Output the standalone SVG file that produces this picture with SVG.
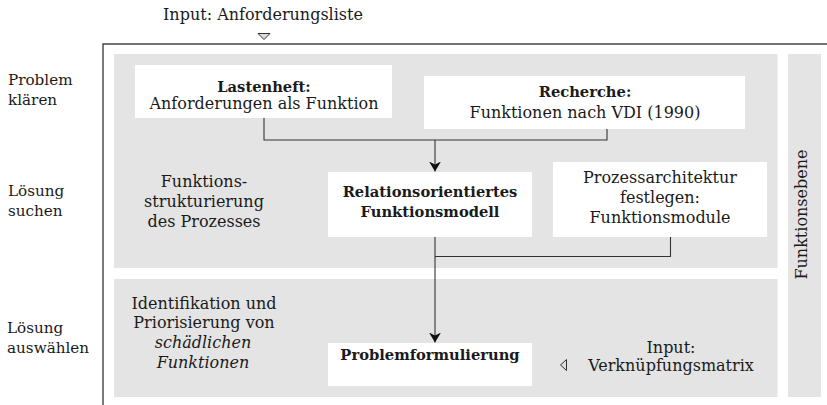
<svg xmlns="http://www.w3.org/2000/svg" width="827" height="405" viewBox="0 0 827 405">
  <defs>
    <style>
      text { font-family: "DejaVu Serif", "Liberation Serif", serif; font-size: 16px; fill: #1a1a1a; }
      .s { font-size: 15.2px; }
      .b { font-weight: bold; font-size: 14.7px; }
      .i { font-style: italic; }
      .m { text-anchor: middle; }
      .panel { fill: #e4e4e4; }
      .box { fill: #ffffff; }
      .frame { stroke: #444444; stroke-width: 1.4; fill: none; }
      .wire { stroke: #333333; stroke-width: 1.1; fill: none; }
      .tri { fill: #dddddd; stroke: #333333; stroke-width: 1; }
    </style>
    <marker id="arrow" viewBox="0 0 10 14" refX="10" refY="7" markerWidth="10" markerHeight="14" markerUnits="userSpaceOnUse" orient="auto">
      <path d="M0,1 L10,7 L0,13 L3,7 Z" fill="#111111"/>
    </marker>
  </defs>

  <!-- frame -->
  <path class="frame" d="M103,405 V44 H827"/>

  <!-- background panels -->
  <rect class="panel" x="114" y="54" width="663.5" height="214"/>
  <rect class="panel" x="114" y="279" width="663.5" height="118"/>
  <rect class="panel" x="788" y="54" width="33" height="343"/>

  <!-- input marker (top) -->
  <text class="m" x="263" y="20">Input: Anforderungsliste</text>
  <polygon class="tri" points="258,33.5 270,33.5 264,39.5"/>

  <!-- phase labels -->
  <text class="s" x="8" y="85">Problem</text>
  <text class="s" x="8" y="105">klären</text>
  <text class="s" x="8" y="196">Lösung</text>
  <text class="s" x="8" y="216">suchen</text>
  <text class="s" x="7" y="333">Lösung</text>
  <text class="s" x="7" y="353">auswählen</text>

  <!-- level label -->
  <text class="m" transform="translate(807,214.5) rotate(-90)">Funktionsebene</text>

  <!-- connectors -->
  <g id="connectors">
    <path class="wire" d="M264,118 V140 H607 V129"/>
    <path class="wire" d="M435,140 V171.5" marker-end="url(#arrow)"/>
    <path class="wire" d="M670.5,237 V256.5 H435"/>
    <path class="wire" d="M435,237 V342.5" marker-end="url(#arrow)"/>
  </g>

  <g id="lastenheft">
    <rect class="box" x="135" y="65" width="257" height="53"/>
    <text class="m b" x="264" y="91.5">Lastenheft:</text>
    <text class="m" x="264" y="109">Anforderungen als Funktion</text>
  </g>

  <g id="recherche">
    <rect class="box" x="424" y="76" width="321" height="53"/>
    <text class="m b" x="585" y="97">Recherche:</text>
    <text class="m" x="585" y="118">Funktionen nach VDI (1990)</text>
  </g>

  <g id="funktionsstrukturierung">
    <text class="m" x="204" y="187">Funktions-</text>
    <text class="m" x="204" y="207">strukturierung</text>
    <text class="m" x="204" y="227">des Prozesses</text>
  </g>

  <g id="funktionsmodell">
    <rect class="box" x="328" y="172" width="204" height="65"/>
    <text class="m b" x="430" y="197">Relationsorientiertes</text>
    <text class="m b" x="430" y="217">Funktionsmodell</text>
  </g>

  <g id="prozessarchitektur">
    <rect class="box" x="553" y="162" width="214" height="75"/>
    <text class="m" x="660" y="183">Prozessarchitektur</text>
    <text class="m" x="660" y="203">festlegen:</text>
    <text class="m" x="660" y="223">Funktionsmodule</text>
  </g>

  <g id="identifikation">
    <text class="m" x="204" y="308.5">Identifikation und</text>
    <text class="m" x="204" y="328">Priorisierung von</text>
    <text class="m i" x="203" y="348">schädlichen</text>
    <text class="m i" x="203" y="368">Funktionen</text>
  </g>

  <g id="problemformulierung">
    <rect class="box" x="328" y="343" width="204" height="43"/>
    <text class="m b" x="430" y="360">Problemformulierung</text>
  </g>

  <g id="verknuepfungsmatrix">
    <polygon class="tri" points="560.5,365 566.5,359.5 566.5,370.5"/>
    <text class="m" x="671" y="353">Input:</text>
    <text class="m" x="671" y="371">Verknüpfungsmatrix</text>
  </g>
</svg>
